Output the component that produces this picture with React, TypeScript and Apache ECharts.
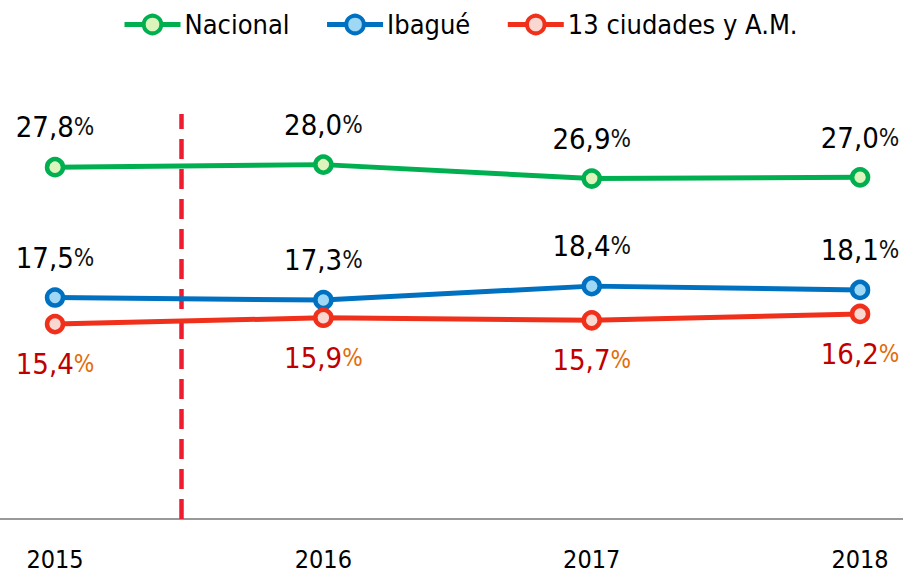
import React, { useEffect, useRef } from "react";
import * as echarts from "echarts";

const years = [2015, 2016, 2017, 2018];
const nacional = [27.8, 28.0, 26.9, 27.0];
const ibague = [17.5, 17.3, 18.4, 18.1];
const ciudades = [15.4, 15.9, 15.7, 16.2];
const divider = 2015.47;

const FONT = "'Liberation Sans Narrow', 'DejaVu Sans Condensed', 'Noto Sans', sans-serif";

const fmt = (v: number) => v.toFixed(1).replace(".", ",");

export default function App() {
  const ref = useRef<HTMLDivElement>(null);
  useEffect(() => {
    if (!ref.current) return;
    const chart = echarts.init(ref.current, null, { renderer: "svg" });
    const mk = (
      name: string,
      vals: number[],
      line: string,
      fill: string,
      pos: "top" | "bottom",
      numColor: string,
      pctColor: string
    ) => ({
      name,
      type: "line",
      data: vals.map((v, i) => [years[i], v]),
      symbol: "circle",
      symbolSize: 16,
      lineStyle: { color: line, width: 5 },
      itemStyle: { color: fill, borderColor: line, borderWidth: 4.5 },
      label: {
        show: true,
        position: pos,
        distance: 15,
        formatter: (p: any) => `{n|${fmt(p.value[1])}}{p|%}`,
        rich: {
          n: { fontFamily: FONT, fontSize: 29, color: numColor },
          p: { fontFamily: FONT, fontSize: 24, color: pctColor },
        },
      },
      z: 3,
    });
    chart.setOption({
      animation: false,
      legend: {
        top: 6,
        left: 117,
        itemWidth: 56,
        itemHeight: 22,
        itemGap: 35,
        lineStyle: { width: 5 },
        itemStyle: { borderWidth: 4 },
        textStyle: { fontFamily: FONT, fontSize: 27, color: "#000", padding: [0, 0, 0, -1] },
        data: ["Nacional", "Ibagué", "13 ciudades y A.M."],
      },
      grid: { left: 0, right: 0, top: 114, bottom: 57 },
      xAxis: {
        type: "value",
        min: 2014.795,
        max: 2018.16,
        axisLine: { show: true, lineStyle: { color: "#999", width: 2 } },
        axisTick: { show: false },
        splitLine: { show: false },
        axisLabel: {
          customValues: years,
          formatter: (v: number) => String(v),
          fontFamily: FONT,
          fontSize: 25,
          color: "#000",
          margin: 28,
        },
      },
      yAxis: {
        type: "value",
        min: 0,
        max: 32,
        show: false,
      },
      series: [
        mk("Nacional", nacional, "#00AF50", "#DDF5BC", "top", "#000", "#111"),
        mk("Ibagué", ibague, "#0070C0", "#9ED8F5", "top", "#000", "#111"),
        {
          ...mk("13 ciudades y A.M.", ciudades, "#F0301A", "#FAD8D2", "bottom", "#C00000", "#E36C09"),
          markLine: {
            silent: true,
            symbol: "none",
            label: { show: false },
            lineStyle: { color: "#EE1C2E", width: 4.5, type: [20, 10] },
            data: [{ xAxis: divider }],
            z: 1,
          },
        },
      ],
    });
    return () => chart.dispose();
  }, []);
  return <div ref={ref} style={{ width: 903, height: 576, position: "absolute", left: 0, top: 0 }} />;
}
